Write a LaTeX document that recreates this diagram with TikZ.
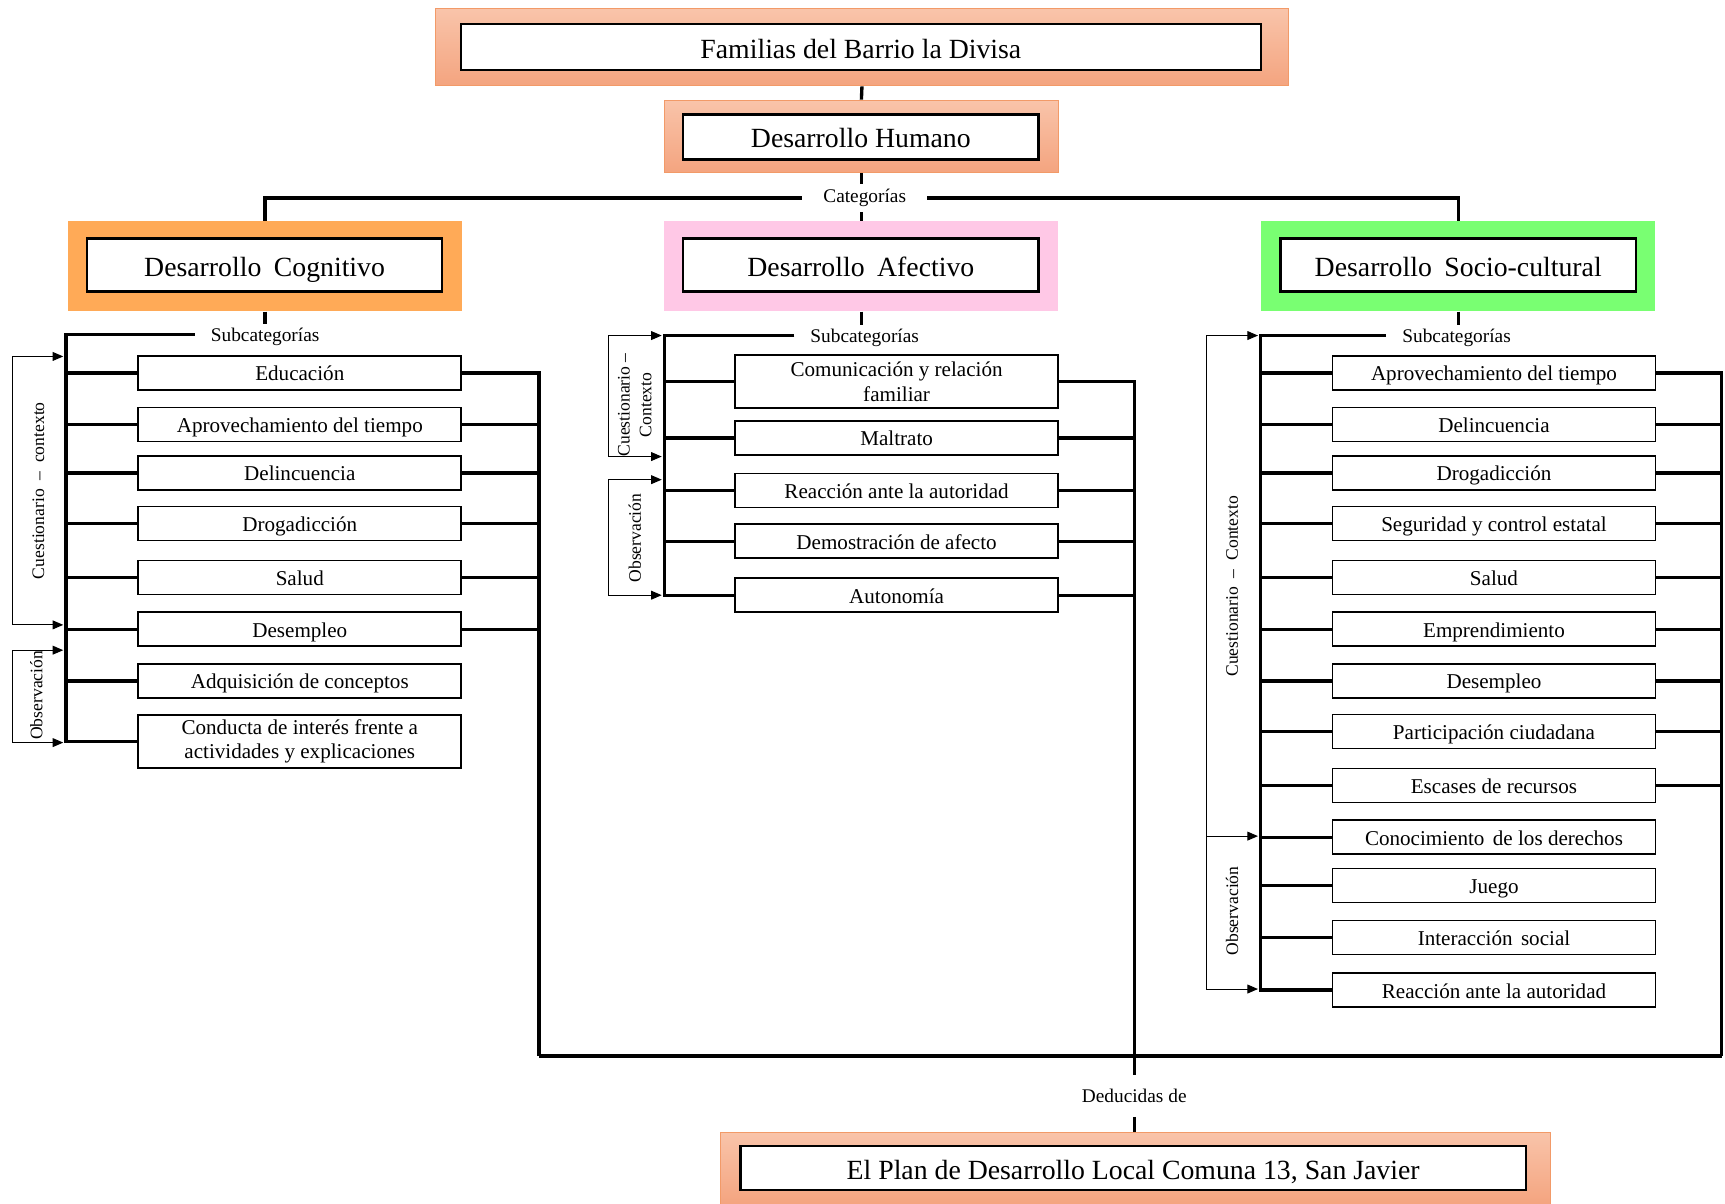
\documentclass[tikz,border=0pt]{standalone}
\usepackage{fontspec}
\setmainfont{Liberation Serif}
\usetikzlibrary{arrows.meta}

\definecolor{peachtop}{HTML}{F9C4AA}
\definecolor{peachbot}{HTML}{F4A47F}
\definecolor{peachline}{HTML}{F29A68}
\definecolor{cogorange}{HTML}{FFAA57}
\definecolor{afecpink}{HTML}{FFC8E6}
\definecolor{sociogreen}{HTML}{79FF72}

\begin{document}
\begin{tikzpicture}[x=0.022cm,y=-0.022cm,
  peach/.style={rectangle,top color=peachtop,bottom color=peachbot,draw=peachline,line width=0.6pt},
  catbox/.style={rectangle,minimum width=7.88cm,minimum height=1.80cm},
  titlebox/.style={rectangle,draw,fill=white,line width=1.3pt,inner sep=0pt,text height=12.5pt,text depth=0pt,font=\fontsize{15.8}{18}\selectfont},
  item/.style={rectangle,draw,fill=white,line width=0.9pt,inner sep=0pt,minimum width=6.46cm,minimum height=0.68cm,align=center,text height=9pt,text depth=0pt,font=\fontsize{12}{14}\selectfont},
  item2/.style={item,text height=,text depth=,minimum height=1.06cm},
  tag/.style={inner ysep=2pt,inner xsep=9pt,font=\fontsize{11}{12}\selectfont},
  method/.style={rotate=90,align=center,inner sep=0pt,font=\fontsize{10}{12.5}\selectfont},
  link/.style={line width=1.9pt},
  bracket/.style={line width=0.6pt,{Triangle[length=6pt,width=5pt]}-{Triangle[length=6pt,width=5pt]}},
  onearrow/.style={line width=0.6pt,-{Triangle[length=6pt,width=5pt]}}]
\useasboundingbox (0,0) rectangle (1568,1094);
% Top boxes
\node[peach,minimum width=17.05cm,minimum height=1.54cm] (famo) at (783.5,43) {};
\node[titlebox,minimum width=16cm,minimum height=0.92cm] (fam) at (782.5,43) {Familias del Barrio la Divisa};
\node[peach,minimum width=7.88cm,minimum height=1.45cm] (dho) at (783,124) {};
\node[titlebox,minimum width=7.11cm,minimum height=0.90cm] (dh) at (782.5,124.5) {Desarrollo Humano};
\node[tag,inner xsep=12pt,inner ysep=3pt] (cat) at (786,180) {Categorías};
% Categories
\node[catbox,fill=cogorange] (cogo) at (241,242) {};
\node[titlebox,minimum width=7.11cm,minimum height=1.06cm] (cog) at (240.5,241) {Desarrollo\hspace{0.45em}Cognitivo};
\node[catbox,fill=afecpink] (afeco) at (783,242) {};
\node[titlebox,minimum width=7.11cm,minimum height=1.06cm] (afec) at (782.5,241) {Desarrollo\hspace{0.45em}Afectivo};
\node[catbox,fill=sociogreen] (soco) at (1325.5,242) {};
\node[titlebox,minimum width=7.11cm,minimum height=1.06cm] (soc) at (1325.5,241) {Desarrollo\hspace{0.45em}Socio-cultural};
% Connect the top
\draw[link] (famo.south) -- (dho.north);
\draw[link] (dho.south) -- (dho.south |- cat.north);
\draw[link] (cat.south -| afeco.north) -- (afeco.north);
\draw[link] (cat.west) -| (cogo.north);
\draw[link] (cat.east) -| (soco.north);
% Subcategories labels
\node[tag] (subc) at (241,306) {Subcategorías};
\node[tag] (suba) at (786,307) {Subcategorías};
\node[tag] (subs) at (1324,307) {Subcategorías};
\draw[link] (cogo.south) -- (cogo.south |- subc.north);
\draw[link] (afeco.south) -- (afeco.south |- suba.north);
\draw[link] (soco.south) -- (soco.south |- subs.north);
% Cognitive subcategories
\node[item] (cb1) at (272.5,339) {Educación};
\node[item] (cb2) at (272.5,386) {Aprovechamiento del tiempo};
\node[item] (cb3) at (272.5,430) {Delincuencia};
\node[item] (cb4) at (272.5,476) {Drogadicción};
\node[item] (cb5) at (272.5,525) {Salud};
\node[item] (cb6) at (272.5,572) {Desempleo};
\node[item] (cb7) at (272.5,619) {Adquisición de conceptos};
\node[item2] (cb8) at (272.5,674) {Conducta de interés frente a\\actividades y explicaciones};
% Affective subcategories
\node[item2] (ab1) at (815,347) {Comunicación y relación\\familiar};
\node[item] (ab2) at (815,398) {Maltrato};
\node[item] (ab3) at (815,446) {Reacción ante la autoridad};
\node[item] (ab4) at (815,492) {Demostración de afecto};
\node[item] (ab5) at (815,541) {Autonomía};
% Socio-cultural subcategories
\node[item] (sb1) at (1358,339) {Aprovechamiento del tiempo};
\node[item] (sb2) at (1358,386) {Delincuencia};
\node[item] (sb3) at (1358,430) {Drogadicción};
\node[item] (sb4) at (1358,476) {Seguridad y control estatal};
\node[item] (sb5) at (1358,525) {Salud};
\node[item] (sb6) at (1358,572) {Emprendimiento};
\node[item] (sb7) at (1358,619) {Desempleo};
\node[item] (sb8) at (1358,665) {Participación ciudadana};
\node[item] (sb9) at (1358,714) {Escases de recursos};
\node[item] (sb10) at (1358,761) {Conocimiento\hspace{0.4em}de los derechos};
\node[item] (sb11) at (1358,805) {Juego};
\node[item] (sb12) at (1358,852) {Interacción\hspace{0.4em}social};
\node[item] (sb13) at (1358,900) {Reacción ante la autoridad};
% Bottom box
\node[tag,inner ysep=8pt] (ded) at (1031,996) {Deducidas de};
\node[peach,minimum width=16.59cm,minimum height=1.45cm] (plano) at (1032,1062) {};
\node[titlebox,minimum width=15.71cm,minimum height=0.88cm] (plan) at (1030,1062) {El Plan de Desarrollo Local Comuna 13, San Javier};
% Trunks
\coordinate (ctop) at (60,304);
\coordinate (atop) at (604,305);
\coordinate (stop) at (1146,305);
\draw[link] (ctop -| subc.west) -- (ctop) -- (ctop |- cb8.west) -- (cb8.west);
\draw[link] (ctop |- cb1.west) -- (cb1.west);
\draw[link] (ctop |- cb2.west) -- (cb2.west);
\draw[link] (ctop |- cb3.west) -- (cb3.west);
\draw[link] (ctop |- cb4.west) -- (cb4.west);
\draw[link] (ctop |- cb5.west) -- (cb5.west);
\draw[link] (ctop |- cb6.west) -- (cb6.west);
\draw[link] (ctop |- cb7.west) -- (cb7.west);
\draw[link] (atop -| suba.west) -- (atop) -- (atop |- ab5.west) -- (ab5.west);
\draw[link] (atop |- ab1.west) -- (ab1.west);
\draw[link] (atop |- ab2.west) -- (ab2.west);
\draw[link] (atop |- ab3.west) -- (ab3.west);
\draw[link] (atop |- ab4.west) -- (ab4.west);
\draw[link] (stop -| subs.west) -- (stop) -- (stop |- sb13.west) -- (sb13.west);
\draw[link] (stop |- sb1.west) -- (sb1.west);
\draw[link] (stop |- sb2.west) -- (sb2.west);
\draw[link] (stop |- sb3.west) -- (sb3.west);
\draw[link] (stop |- sb4.west) -- (sb4.west);
\draw[link] (stop |- sb5.west) -- (sb5.west);
\draw[link] (stop |- sb6.west) -- (sb6.west);
\draw[link] (stop |- sb7.west) -- (sb7.west);
\draw[link] (stop |- sb8.west) -- (sb8.west);
\draw[link] (stop |- sb9.west) -- (sb9.west);
\draw[link] (stop |- sb10.west) -- (sb10.west);
\draw[link] (stop |- sb11.west) -- (sb11.west);
\draw[link] (stop |- sb12.west) -- (sb12.west);
% Right side lines down to the plan
\coordinate (cright) at (490,960);
\coordinate (sright) at (1565,960);
\draw[link] (cb1.east) -- (cb1.east -| cright) -- (cright);
\draw[link] (cb2.east) -- (cb2.east -| cright);
\draw[link] (cb3.east) -- (cb3.east -| cright);
\draw[link] (cb4.east) -- (cb4.east -| cright);
\draw[link] (cb5.east) -- (cb5.east -| cright);
\draw[link] (cb6.east) -- (cb6.east -| cright);
\draw[link] (ab1.east) -- (ab1.east -| ded.north) -- (ded.north);
\draw[link] (ab2.east) -- (ab2.east -| ded.north);
\draw[link] (ab3.east) -- (ab3.east -| ded.north);
\draw[link] (ab4.east) -- (ab4.east -| ded.north);
\draw[link] (ab5.east) -- (ab5.east -| ded.north);
\draw[link] (sb1.east) -- (sb1.east -| sright) -- (sright);
\draw[link] (sb2.east) -- (sb2.east -| sright);
\draw[link] (sb3.east) -- (sb3.east -| sright);
\draw[link] (sb4.east) -- (sb4.east -| sright);
\draw[link] (sb5.east) -- (sb5.east -| sright);
\draw[link] (sb6.east) -- (sb6.east -| sright);
\draw[link] (sb7.east) -- (sb7.east -| sright);
\draw[link] (sb8.east) -- (sb8.east -| sright);
\draw[link] (sb9.east) -- (sb9.east -| sright);
\draw[link] (cright) -- (sright);
\draw[link] (ded.south) -- (ded.south |- plano.north);
% Methods (brackets)
\coordinate (cqa) at (57.5,324);
\coordinate (cqb) at (57.5,568);
\coordinate (coa) at (57.5,591);
\coordinate (cob) at (57.5,675);
\draw[bracket] (cqa) -- ++(-46,0) |- (cqb);
\draw[bracket] (coa) -- ++(-46,0) |- (cob);
\node[method] (cq) at (35,446) {Cuestionario\hspace{0.5em}–\hspace{0.5em}contexto};
\node[method] (co) at (33,632) {Observación};
\coordinate (aqa) at (601.5,305);
\coordinate (aqb) at (601.5,415);
\coordinate (aoa) at (601.5,436);
\coordinate (aob) at (601.5,541);
\draw[bracket] (aqa) -- ++(-48,0) |- (aqb);
\draw[bracket] (aoa) -- ++(-48,0) |- (aob);
\node[method] (aq) at (577,368) {Cuestionario –\\Contexto};
\node[method] (ao) at (577,489) {Observación};
\coordinate (sqa) at (1143.5,305);
\coordinate (sqb) at (1143.5,760);
\coordinate (sqc) at (1143.5,899);
\coordinate (sqx) at (1097,760);
\draw[bracket] (sqa) -- ++(-46.5,0) |- (sqc);
\draw[onearrow] (sqx) -- (sqb);
\node[method] (sq) at (1120,533) {Cuestionario\hspace{0.5em}–\hspace{0.5em}Contexto};
\node[method] (so) at (1120,828) {Observación};
\end{tikzpicture}
\end{document}
